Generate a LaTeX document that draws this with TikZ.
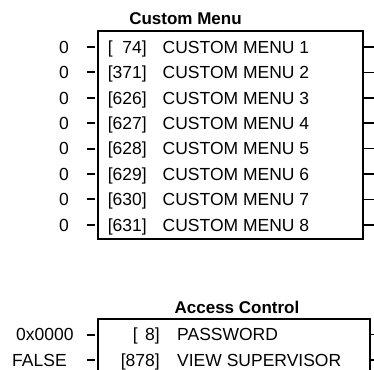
\documentclass[tikz,border=0pt]{standalone}
\usepackage{fontspec}
\setmainfont{Liberation Sans}
\begin{document}
\begin{tikzpicture}[x=1pt,y=-1pt,
  txt/.style={inner sep=0pt,text height=12.6pt,text depth=0pt,font=\fontsize{17.5}{21}\selectfont},
  ttl/.style={txt,font=\fontsize{17}{21}\selectfont\bfseries,anchor=center},
  boxline/.style={draw,line width=1.7pt,inner sep=0pt},
  lead/.style={line width=2pt},
  stub/.style={line width=1.5pt}]
\clip (0,0) rectangle (374,369);
% ---------- Custom Menu ----------
\node[ttl] (t1) at (185.5,18) {Custom Menu};
\node[boxline,minimum width=265pt,minimum height=208pt] (box1) at (230.5,135) {};
\foreach \i/\num/\nm in {0/{[ \kern4.8pt74]}/{CUSTOM MENU 1},1/{[371]}/{CUSTOM MENU 2},2/{[626]}/{CUSTOM MENU 3},3/{[627]}/{CUSTOM MENU 4},4/{[628]}/{CUSTOM MENU 5},5/{[629]}/{CUSTOM MENU 6},6/{[630]}/{CUSTOM MENU 7},7/{[631]}/{CUSTOM MENU 8}}{
  \pgfmathsetmacro\yy{47+25.4*\i}
  \node[txt,anchor=east] (n\i) at (147,\yy) {\num};
  \node[txt,anchor=west] (m\i) at (162.5,\yy) {\nm};
  \node[txt,anchor=west] (v\i) at (59,\yy) {0};
  \coordinate (la\i) at (87,\yy);
  \coordinate (lb\i) at (95,\yy);
  \draw[lead] (la\i) -- (lb\i);
  \coordinate (ra\i) at (box1.east |- m\i.west);
  \coordinate (rb\i) at (374,\yy);
  \draw[stub] (ra\i) -- (rb\i);
}
% ---------- Access Control ----------
\node[ttl] (t2) at (237,307) {Access Control};
\node[boxline,minimum width=272pt,minimum height=81pt] (box2) at (234,359.5) {};
\foreach \i/\num/\nm/\val/\vx in {0/{[ \kern2.7pt8]}/{PASSWORD}/{0x0000}/16,1/{[878]}/{VIEW SUPERVISOR}/{FALSE}/12}{
  \pgfmathsetmacro\yy{334.5+25.5*\i}
  \node[txt,anchor=east] (p\i) at (160,\yy) {\num};
  \node[txt,anchor=west] (q\i) at (177,\yy) {\nm};
  \node[txt,anchor=west] (w\i) at (\vx,\yy) {\val};
  \coordinate (lc\i) at (87,\yy);
  \coordinate (ld\i) at (95,\yy);
  \draw[lead] (lc\i) -- (ld\i);
  \coordinate (rc\i) at (box2.east |- q\i.west);
  \coordinate (rd\i) at (374,\yy);
  \draw[stub] (rc\i) -- (rd\i);
}
\end{tikzpicture}
\end{document}
